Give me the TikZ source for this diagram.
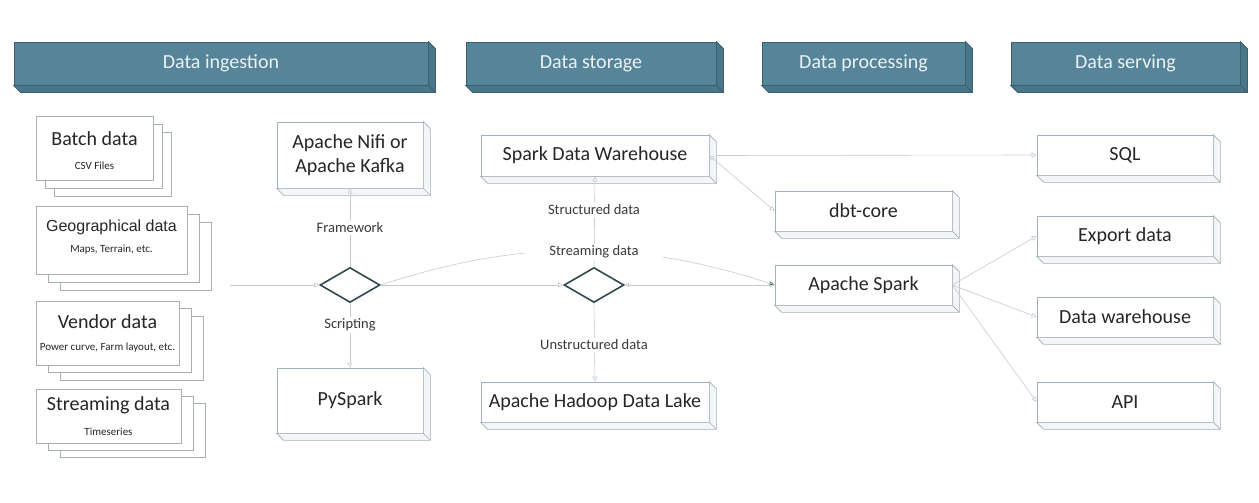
\documentclass[tikz,border=0pt]{standalone}
\usepackage{fontspec}
\setmainfont{Carlito}
\newfontfamily\arialfont{Liberation Sans}
\usetikzlibrary{arrows.meta,shapes.geometric,shadows}

\definecolor{headblue}{HTML}{56859A}
\definecolor{headside}{HTML}{4A7689}
\definecolor{headedge}{HTML}{3C6070}
\definecolor{headtxt}{HTML}{EAF2F5}
\definecolor{boxedge}{HTML}{A2B1B7}
\definecolor{boxside}{HTML}{F3F5F6}
\definecolor{docedge}{HTML}{A7AFB3}
\definecolor{lineg}{HTML}{C6CBCE}
\definecolor{diaedge}{HTML}{2F4A4E}
\definecolor{txt}{HTML}{262626}
\definecolor{labtxt}{HTML}{3A3A3A}

\tikzset{
  header/.style={draw=headedge, fill=headblue, line width=0.8pt, minimum height=43, inner sep=0pt,
    text=headtxt, font=\fontsize{20}{24}\selectfont},
  box/.style={draw=boxedge, fill=white, line width=0.7pt, minimum width=177, minimum height=40,
    inner sep=0pt, text=txt, font=\fontsize{20}{24}\selectfont, align=center},
  doc/.style={draw=docedge, fill=white, line width=0.7pt, inner sep=0pt},
  doctitle/.style={text=txt, font=\fontsize{20}{24}\selectfont, inner sep=0pt},
  docsub/.style={text=txt, font=\fontsize{11}{13}\selectfont, inner sep=0pt},
  choice/.style={diamond, draw=diaedge, fill=white, line width=1.6pt, minimum width=60,
    minimum height=35, inner sep=0pt},
  conn/.style={draw=lineg, line width=0.6pt, -{Triangle[open,length=5pt,width=5pt]}},
  flowlabel/.style={fill=white, text=labtxt, font=\fontsize{14.5}{17}\selectfont, inner sep=2pt}
}

% side and bottom faces of a box: node, depth, style
\newcommand{\extrude}[3]{%
  \filldraw[#3] (#1.north east) -- ++(#2,#2) -- ([shift={(#2,#2)}]#1.south east)
    -- ([shift={(#2,#2)}]#1.south west) -- (#1.south west) -- (#1.south east) -- cycle;
  \draw[#3] (#1.south east) -- ++(#2,#2);
}

\begin{document}
\begin{tikzpicture}[x=1pt,y=-1pt]
\useasboundingbox (0,0) rectangle (1259,503);

% headers
\node[header, minimum width=414] (hingest) at (221,63.5) {Data ingestion};
\node[header, minimum width=250] (hstore) at (591,63.5) {Data storage};
\node[header, minimum width=203] (hproc) at (863.5,63.5) {Data processing};
\node[header, minimum width=229] (hserve) at (1125.5,63.5) {Data serving};
\foreach \n in {hingest,hstore,hproc,hserve}
  \extrude{\n}{7}{draw=headedge, fill=headside, line width=0.8pt};

% sources
\node[doc, minimum width=117, minimum height=64,
  double copy shadow={shadow xshift=9pt, shadow yshift=-8pt, fill=white, draw=docedge}] (batch) at (94.5,148) {};
\node[doc, minimum width=151, minimum height=68,
  double copy shadow={shadow xshift=12pt, shadow yshift=-8pt, fill=white, draw=docedge}] (geo) at (111.5,240) {};
\node[doc, minimum width=143, minimum height=64,
  double copy shadow={shadow xshift=12pt, shadow yshift=-7.5pt, fill=white, draw=docedge}] (vendor) at (107.5,333) {};
\node[doc, minimum width=145, minimum height=54,
  double copy shadow={shadow xshift=12pt, shadow yshift=-7pt, fill=white, draw=docedge}] (stream) at (108.5,416) {};

\node[doctitle] (batcht) at (94.5,139) {Batch data};
\node[docsub] (batchs) at (94.5,166) {CSV Files};
\node[doctitle, font=\arialfont\fontsize{16}{19}\selectfont] (geot) at (111.5,227) {Geographical data};
\node[docsub] (geos) at (111.5,250) {Maps, Terrain, etc.};
\node[doctitle] (vendort) at (107.5,322) {Vendor data};
\node[docsub] (vendors) at (107.5,348) {Power curve, Farm layout, etc.};
\node[doctitle] (streamt) at (108.5,405) {Streaming data};
\node[docsub] (streams) at (108.5,432) {Timeseries};

% ingestion
\node[box, minimum width=146, minimum height=66] (nifi) at (350,155) {Apache Nifi or\\Apache Kafka};
\node[box, minimum width=146, minimum height=65] (pyspark) at (350,400.5) {PySpark};
\node[choice] (route) at (350,285) {};
\coordinate (feed) at (230,285);

% storage
\node[box, minimum width=228, minimum height=41] (warehouse) at (595,155.5) {Spark Data Warehouse};
\node[box, minimum width=228] (lake) at (595,402) {Apache Hadoop Data Lake};
\node[choice] (split) at (594,285) {};

% processing
\node[box] (dbt) at (863.5,211) {dbt-core};
\node[box] (spark) at (863.5,285) {Apache Spark};

% serving
\node[box, minimum width=176] (sql) at (1125,155) {SQL};
\node[box, minimum width=176] (export) at (1125,236) {Export data};
\node[box, minimum width=176] (dwh) at (1125,317) {Data warehouse};
\node[box, minimum width=176] (api) at (1125,402) {API};

\foreach \n in {nifi,pyspark,warehouse,lake,dbt,spark,sql,export,dwh,api}
  \extrude{\n}{7}{draw=boxedge, fill=boxside, line width=0.7pt};

% connectors
\draw[conn] (feed) -- (route.west);
\draw[conn] (route.north) -- (nifi.south);
\draw[conn] (route.south) -- (pyspark.north);
\draw[conn] (route.east) -- (split.west);
\draw[conn, -{Stealth[length=6pt,width=4pt,color=diaedge]}] (route.east)
  .. controls +(140,-46) and +(-140,-46) .. (spark.west);
\draw[conn, {Triangle[open,length=4pt,width=4pt]}-{Triangle[open,length=5pt,width=5pt]}] (split.east) -- (spark.west);
\draw[conn] (split.north) -- (warehouse.south);
\draw[conn] (split.south) -- (lake.north);
\draw[conn] ([xshift=7]warehouse.east) -- (sql.west);
\draw[conn, {Triangle[open,length=5pt,width=5pt]}-{Triangle[open,length=5pt,width=5pt]}] (warehouse.east) -- (dbt.west);
\draw[conn] (spark.east) -- (export.west);
\draw[conn] (spark.east) -- (dwh.west);
\draw[conn] (spark.east) -- (api.west);

\node[flowlabel] (fwlab) at (350,228) {Framework};
\node[flowlabel] (scrlab) at (350,325) {Scripting};
\node[flowlabel] (structlab) at (594,210) {Structured data};
\node[flowlabel, inner xsep=24pt] (streamlab) at (594,252) {Streaming data};
\node[flowlabel] (unstructlab) at (594,345) {Unstructured data};
\end{tikzpicture}
\end{document}
